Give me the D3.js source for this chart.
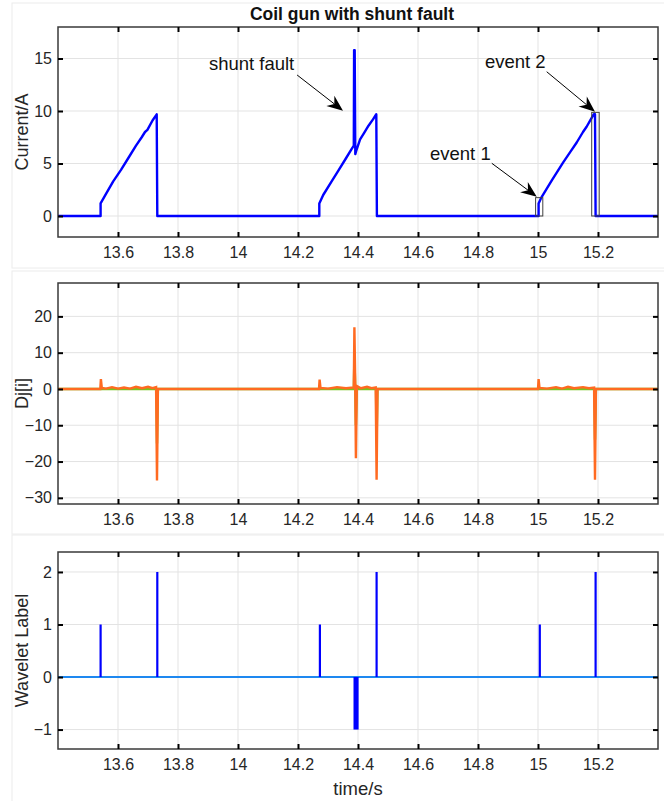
<!DOCTYPE html>
<html>
<head>
<meta charset="utf-8">
<script src="https://cdn.jsdelivr.net/npm/d3@7"></script>
<style>
  body { margin: 0; background: #fff; }
  svg { display: block; font-family: "Liberation Sans", Arial, sans-serif; }
</style>
</head>
<body>
<svg id="chart" width="664" height="801"></svg>
<script>
// ---- data ----
var xTicks = [13.6, 13.8, 14, 14.2, 14.4, 14.6, 14.8, 15, 15.2]
var currentTicks = [0, 5, 10, 15]
var djTicks = [-30, -20, -10, 0, 10, 20]
var labelTicks = [-1, 0, 1, 2]

// coil current [time, A]
var currentPts = [
  [13.4, 0], [13.542, 0], [13.542, 1.2], [13.56, 2.1], [13.584, 3.3], [13.61, 4.4], [13.634, 5.5],
  [13.66, 6.7], [13.679, 7.5], [13.69, 8.0], [13.698, 8.2], [13.715, 9.1], [13.729, 9.68],
  [13.731, 0], [14.271, 0], [14.271, 1.2], [14.284, 2.0], [14.31, 3.2], [14.334, 4.3],
  [14.36, 5.5], [14.379, 6.4], [14.386, 6.7], [14.387, 15.8], [14.389, 15.8], [14.391, 5.9],
  [14.394, 6.2], [14.407, 7.3], [14.42, 7.9], [14.435, 8.6], [14.45, 9.2], [14.461, 9.7],
  [14.463, 0], [15.002, 0], [15.002, 1.2], [15.01, 1.7], [15.046, 3.4], [15.084, 5.1],
  [15.11, 6.2], [15.129, 7.0], [15.15, 8.0], [15.162, 8.5], [15.176, 9.2], [15.186, 9.7],
  [15.19, 9.7], [15.192, 0], [15.4, 0]
]

// Dj[i] detail coefficients [time, value]
var djGreen = [
  [13.4, 0], [13.728, 0], [13.73, -15], [13.733, 0], [14.386, 0], [14.388, 8.5],
  [14.391, 0], [14.393, -10], [14.396, 0], [14.46, 0], [14.462, -14], [14.465, 0],
  [15.188, 0], [15.19, -14], [15.193, 0], [15.4, 0]
]
var djOrange = [
  [13.4, 0], [13.541, 0], [13.543, 2.7], [13.546, 0.3], [13.56, 0.1], [13.58, 0.5], [13.6, 0.1],
  [13.62, 0.4], [13.64, 0.1], [13.66, 0.6], [13.68, 0.2], [13.7, 0.6], [13.715, 0.2],
  [13.727, 0.5], [13.73, -25.2], [13.733, 0], [14.27, 0], [14.272, 2.6], [14.275, 0.3],
  [14.3, 0.1], [14.33, 0.5], [14.36, 0.2], [14.386, 0.4], [14.388, 17], [14.391, 0.5],
  [14.393, -19.1], [14.396, 0.8], [14.41, 0.2], [14.43, 0.6], [14.445, 0.2], [14.459, 0.4],
  [14.462, -25], [14.465, 0], [15.0, 0], [15.002, 2.7], [15.005, 0.3], [15.03, 0.1],
  [15.06, 0.5], [15.08, 0.1], [15.1, 0.6], [15.12, 0.2], [15.15, 0.5], [15.17, 0.2],
  [15.187, 0.4], [15.19, -25], [15.193, 0], [15.4, 0]
]

// wavelet labels
var stemTimes = [13.542, 13.731, 14.273, 14.462, 15.006, 15.192]
var stemValues = [1, 2, 1, 2, 1, 2]
var faultBand = [14.385, 14.402]   // label -1 over this span

// event boxes on the current plot [t0, t1, top]
var eventBoxes = [[14.992, 15.016, 1.75], [15.179, 15.204, 9.87]]

// annotations: text, text anchor (t, A), arrow tail (t, A), arrow tip (t, A)
var notes = [
  {text: "shunt fault", at: [13.903, 13.9], from: [14.197, 13.43], to: [14.35, 10.03]},
  {text: "event 2", at: [14.823, 14.05], from: [15.029, 13.74], to: [15.19, 9.93]},
  {text: "event 1", at: [14.64, 5.38], from: [14.846, 5.02], to: [14.996, 1.84]}
]

// ---- layout ----
var svg = d3.select("#chart")
var left = 58, right = 658

var x = d3.scaleLinear().domain([13.4, 15.4]).range([left, right])

var panels = [
  {top: 27, bottom: 237, domain: [-2, 18], ticks: currentTicks, label: "Current/A", frame: [3, 268]},
  {top: 283, bottom: 504, domain: [-31.7, 29.2], ticks: djTicks, label: "Dj[i]", frame: [271, 534]},
  {top: 552, bottom: 749, domain: [-1.37, 2.38], ticks: labelTicks, label: "Wavelet Label", frame: [535, 805]}
]

panels.forEach(function(p) {
  p.y = d3.scaleLinear().domain(p.domain).range([p.bottom, p.top])
})

// faint figure frames
panels.forEach(function(p) {
  svg.append("rect")
    .attr("x", 12).attr("y", p.frame[0])
    .attr("width", 700).attr("height", p.frame[1] - p.frame[0])
    .attr("fill", "none").attr("stroke", "#ececec").attr("stroke-width", 1)
})

function drawAxes(p) {
  var g = svg.append("g")
  // grid
  g.selectAll(".gx").data(xTicks).enter().append("line")
    .attr("x1", d => x(d)).attr("x2", d => x(d))
    .attr("y1", p.top).attr("y2", p.bottom)
    .attr("stroke", "#e3e3e3").attr("stroke-width", 1)
  g.selectAll(".gy").data(p.ticks).enter().append("line")
    .attr("x1", left).attr("x2", right)
    .attr("y1", d => p.y(d)).attr("y2", d => p.y(d))
    .attr("stroke", "#e3e3e3").attr("stroke-width", 1)
  return g
}

function drawFrame(p) {
  var g = svg.append("g")
  g.append("rect")
    .attr("x", left).attr("y", p.top)
    .attr("width", right - left).attr("height", p.bottom - p.top)
    .attr("fill", "none").attr("stroke", "#3a3a3a").attr("stroke-width", 1.5)

  var xb = d3.axisBottom(x).tickValues(xTicks).tickSize(-5).tickPadding(10).tickFormat(d3.format("~g"))
  var xt = d3.axisTop(x).tickValues(xTicks).tickSize(-5).tickFormat("")
  var yl = d3.axisLeft(p.y).tickValues(p.ticks).tickSize(-5).tickPadding(6).tickFormat(d3.format("~g"))
  var yr = d3.axisRight(p.y).tickValues(p.ticks).tickSize(-5).tickFormat("")

  g.append("g").attr("transform", "translate(0," + p.bottom + ")").call(xb)
  g.append("g").attr("transform", "translate(0," + p.top + ")").call(xt)
  g.append("g").attr("transform", "translate(" + left + ",0)").call(yl)
  g.append("g").attr("transform", "translate(" + right + ",0)").call(yr)

  g.selectAll(".domain").remove()
  g.selectAll(".tick line").attr("stroke", "#000").attr("stroke-width", 2)
  g.selectAll(".tick text")
    .attr("fill", "#262626")
    .style("font-size", "16px")
    .style("font-family", "Liberation Sans, Arial, sans-serif")

  svg.append("text")
    .attr("transform", "translate(28," + ((p.top + p.bottom) / 2) + ") rotate(-90)")
    .attr("text-anchor", "middle")
    .attr("fill", "#262626")
    .style("font-size", "18px")
    .text(p.label)
}

var line = function(y) {
  return d3.line().x(d => x(d[0])).y(d => y(d[1]))
}

// ---- panel 1: current ----
var p1 = panels[0]
drawAxes(p1)
svg.append("path")
  .datum(currentPts)
  .attr("d", line(p1.y))
  .attr("fill", "none").attr("stroke", "#0000ff").attr("stroke-width", 2.4)
  .attr("stroke-linejoin", "round")

svg.selectAll(".ebox").data(eventBoxes).enter().append("rect")
  .attr("x", d => x(d[0])).attr("y", d => p1.y(d[2]))
  .attr("width", d => x(d[1]) - x(d[0]))
  .attr("height", d => p1.y(0) - p1.y(d[2]))
  .attr("fill", "none").attr("stroke", "#404040").attr("stroke-width", 1)

// arrows
notes.forEach(function(n) {
  var x0 = x(n.from[0]), y0 = p1.y(n.from[1])
  var x1 = x(n.to[0]), y1 = p1.y(n.to[1])
  var ang = Math.atan2(y1 - y0, x1 - x0)
  var L = 16, W = 6.5, back = 11
  var ux = Math.cos(ang), uy = Math.sin(ang)
  var px = -uy, py = ux
  var bx = x1 - ux * L, by = y1 - uy * L
  var cx = x1 - ux * back, cy = y1 - uy * back
  svg.append("line")
    .attr("x1", x0).attr("y1", y0).attr("x2", cx).attr("y2", cy)
    .attr("stroke", "#000").attr("stroke-width", 1)
  svg.append("path")
    .attr("d", "M" + x1 + "," + y1 +
      "L" + (bx + px * W) + "," + (by + py * W) +
      "L" + cx + "," + cy +
      "L" + (bx - px * W) + "," + (by - py * W) + "Z")
    .attr("fill", "#000")
  svg.append("text")
    .attr("x", x(n.at[0])).attr("y", p1.y(n.at[1]))
    .attr("fill", "#111")
    .style("font-size", "18.5px")
    .text(n.text)
})
drawFrame(p1)

svg.append("text")
  .attr("x", 352).attr("y", 20)
  .attr("text-anchor", "middle")
  .attr("fill", "#111")
  .style("font-size", "17.5px").style("font-weight", "bold")
  .text("Coil gun with shunt fault")

// ---- panel 2: Dj[i] ----
var p2 = panels[1]
drawAxes(p2)
svg.append("path")
  .datum(djGreen)
  .attr("d", line(p2.y))
  .attr("fill", "none").attr("stroke", "#77c21f").attr("stroke-width", 2.4)
svg.append("path")
  .datum(djOrange)
  .attr("d", line(p2.y))
  .attr("fill", "none").attr("stroke", "#ff6a21").attr("stroke-width", 2.4)
drawFrame(p2)

// ---- panel 3: wavelet label ----
var p3 = panels[2]
drawAxes(p3)
svg.append("line")
  .attr("x1", left).attr("x2", right)
  .attr("y1", p3.y(0)).attr("y2", p3.y(0))
  .attr("stroke", "#1e88f0").attr("stroke-width", 2)
svg.selectAll(".stem").data(stemTimes).enter().append("line")
  .attr("x1", d => x(d)).attr("x2", d => x(d))
  .attr("y1", p3.y(0)).attr("y2", (d, i) => p3.y(stemValues[i]))
  .attr("stroke", "#0000ff").attr("stroke-width", 2.2)
svg.append("rect")
  .attr("x", x(faultBand[0])).attr("y", p3.y(0))
  .attr("width", x(faultBand[1]) - x(faultBand[0]))
  .attr("height", p3.y(-1) - p3.y(0))
  .attr("fill", "#0000ff")
drawFrame(p3)

svg.append("text")
  .attr("x", 358).attr("y", 795)
  .attr("text-anchor", "middle")
  .attr("fill", "#262626")
  .style("font-size", "18.5px")
  .text("time/s")
</script>
</body>
</html>
